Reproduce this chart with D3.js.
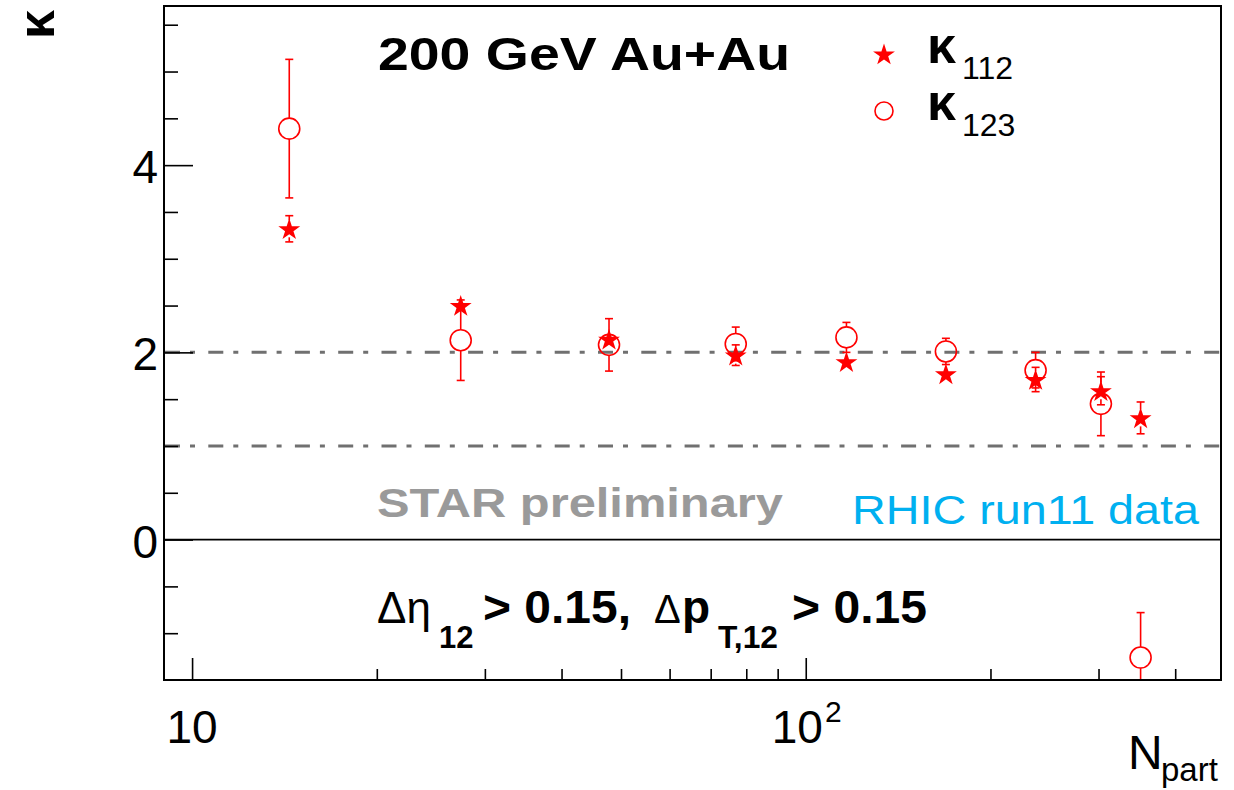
<!DOCTYPE html>
<html>
<head>
<meta charset="utf-8">
<script src="https://cdn.jsdelivr.net/npm/d3@7"></script>
<style>
  html, body { margin: 0; padding: 0; background: #fff; }
  svg { display: block; }
  text { font-family: "Liberation Sans", Arial, sans-serif; }
</style>
</head>
<body>
<svg id="chart" width="1234" height="790"></svg>
<script>
// Participant number of each centrality bin
const npart = [14.4, 27.4, 47.8, 76.9, 116.5, 169.2, 236.9, 302.7, 351.3];
// kappa_112 with statistical errors
const kappa112 = [3.32, 2.50, 2.14, 1.97, 1.90, 1.77, 1.71, 1.59, 1.30];
const kappa112Err = [0.14, 0.05, 0.06, 0.11, 0.07, 0.07, 0.13, 0.15, 0.17];
// kappa_123 with statistical errors
const kappa123 = [4.39, 2.13, 2.08, 2.09, 2.16, 2.01, 1.81, 1.45, -1.26];
const kappa123Err = [0.74, 0.43, 0.28, 0.18, 0.16, 0.14, 0.19, 0.34, 0.48];

// Axis ticks
const xMajorTicks = [10, 100];
const xMinorTicks = [20, 30, 40, 50, 60, 70, 80, 90, 200, 300, 400];
const yMajorTicks = [0, 2, 4];
const yMinorTicks = [-1, -0.5, 0.5, 1, 1.5, 2.5, 3, 3.5, 4.5, 5, 5.5];
// Reference levels drawn as dash-dot lines
const refLevels = [1, 2];

const svg = d3.select("#chart");
const frame = { left: 164, right: 1221, top: 6, bottom: 680 };
const greekFont = "DejaVu Serif, Liberation Serif, serif";

const x = d3.scaleLog().domain([9, 475]).range([frame.left, frame.right]);
const y = d3.scaleLinear().domain([-1.5, 5.7]).range([frame.bottom, frame.top]);

svg.append("defs").append("clipPath").attr("id", "plotClip")
  .append("rect")
  .attr("x", frame.left).attr("y", frame.top)
  .attr("width", frame.right - frame.left).attr("height", frame.bottom - frame.top);

// Dash-dot reference lines
svg.append("g").selectAll("line").data(refLevels).join("line")
  .attr("x1", frame.left + 1).attr("x2", frame.right)
  .attr("y1", d => y(d)).attr("y2", d => y(d))
  .attr("stroke", "#707070").attr("stroke-width", 3)
  .attr("stroke-dasharray", "15,10,5,13.3");

// Zero line
svg.append("line")
  .attr("x1", frame.left).attr("x2", frame.right)
  .attr("y1", y(0)).attr("y2", y(0))
  .attr("stroke", "#000").attr("stroke-width", 1.6);

// Axes: ticks point into the frame
function styleAxis(g) {
  g.select(".domain").remove();
  g.selectAll(".tick line").attr("stroke", "#000").attr("stroke-width", 1.6);
}
svg.append("g").attr("transform", `translate(0,${frame.bottom})`)
  .call(d3.axisBottom(x).tickValues(xMinorTicks).tickSize(-11).tickFormat(""))
  .call(styleAxis);
svg.append("g").attr("transform", `translate(0,${frame.bottom})`)
  .call(d3.axisBottom(x).tickValues(xMajorTicks).tickSize(-22).tickFormat(""))
  .call(styleAxis);
svg.append("g").attr("transform", `translate(${frame.left},0)`)
  .call(d3.axisLeft(y).tickValues(yMinorTicks).tickSize(-14).tickFormat(""))
  .call(styleAxis);
const yAxisMajor = svg.append("g").attr("transform", `translate(${frame.left},0)`)
  .call(d3.axisLeft(y).tickValues(yMajorTicks).tickSize(-29).tickPadding(6).tickFormat(d3.format("d")))
  .call(styleAxis);
yAxisMajor.selectAll(".tick text")
  .attr("font-family", "Liberation Sans, Arial, sans-serif")
  .attr("font-size", 46).attr("fill", "#000").attr("dy", "0.38em");

// x tick labels written as powers of ten
const xLab = svg.append("g").attr("font-size", 46).attr("fill", "#000");
xLab.append("text").attr("x", x(10)).attr("y", 743).attr("text-anchor", "middle").text("10");
const hundred = xLab.append("text").attr("x", x(100) - 34).attr("y", 743);
hundred.append("tspan").text("10");
hundred.append("tspan").attr("font-size", 30).attr("dy", -21).attr("dx", 2).text("2");

// Data layer
const plot = svg.append("g").attr("clip-path", "url(#plotClip)");
const red = "#ff0000";
const circleR = 10.5, starR = 11.5;

function errorBars(values, errors, r) {
  const g = plot.append("g").attr("stroke", red).attr("stroke-width", 1.6);
  values.forEach((v, i) => {
    const cx = x(npart[i]);
    const yc = y(v), yt = y(v + errors[i]), yb = y(v - errors[i]);
    if (yc - yt > r) {
      g.append("line").attr("x1", cx).attr("x2", cx).attr("y1", yt).attr("y2", yc - r);
      g.append("line").attr("x1", cx - 4).attr("x2", cx + 4).attr("y1", yt).attr("y2", yt);
    }
    if (yb - yc > r) {
      g.append("line").attr("x1", cx).attr("x2", cx).attr("y1", yc + r).attr("y2", yb);
      g.append("line").attr("x1", cx - 4).attr("x2", cx + 4).attr("y1", yb).attr("y2", yb);
    }
  });
}

errorBars(kappa123, kappa123Err, circleR);
plot.append("g").selectAll("circle").data(kappa123).join("circle")
  .attr("cx", (d, i) => x(npart[i])).attr("cy", d => y(d)).attr("r", circleR)
  .attr("fill", "none").attr("stroke", red).attr("stroke-width", 1.6);

errorBars(kappa112, kappa112Err, starR - 3);
const starPath = d3.symbol(d3.symbolStar).size(starR * starR / 0.8908130915292852)();
plot.append("g").selectAll("path").data(kappa112).join("path")
  .attr("d", starPath)
  .attr("transform", (d, i) => `translate(${x(npart[i])},${y(d) + 1})`)
  .attr("fill", red);

// Frame
svg.append("rect")
  .attr("x", frame.left).attr("y", frame.top)
  .attr("width", frame.right - frame.left).attr("height", frame.bottom - frame.top)
  .attr("fill", "none").attr("stroke", "#000").attr("stroke-width", 2);

// Axis titles
svg.append("text").attr("transform", "translate(54,39) rotate(-90)")
  .attr("font-family", greekFont).attr("font-weight", "bold")
  .attr("font-size", 52).text("κ");
svg.append("text").attr("x", 1128).attr("y", 769).attr("font-size", 48).text("N");
svg.append("text").attr("x", 1161).attr("y", 781).attr("font-size", 33).text("part");

// Title
svg.append("text").attr("x", 378).attr("y", 70)
  .attr("font-size", 47).attr("font-weight", "bold")
  .attr("textLength", 412).attr("lengthAdjust", "spacingAndGlyphs")
  .text("200 GeV Au+Au");

// Legend
const legend = [
  { label: "112", sym: "star", yc: 54 },
  { label: "123", sym: "circle", yc: 111 }
];
legend.forEach(l => {
  if (l.sym === "star") {
    svg.append("path").attr("d", starPath)
      .attr("transform", `translate(884,${l.yc + 1})`).attr("fill", red);
  } else {
    svg.append("circle").attr("cx", 884).attr("cy", l.yc).attr("r", 9)
      .attr("fill", "none").attr("stroke", red).attr("stroke-width", 1.6);
  }
  svg.append("text").attr("x", 927).attr("y", l.yc + 9)
    .attr("font-family", greekFont).attr("font-weight", "bold")
    .attr("font-size", 52).text("κ");
  svg.append("text").attr("x", 962).attr("y", l.yc + 25)
    .attr("font-size", 32).text(l.label);
});

// Watermark and data-set note
svg.append("text").attr("x", 377).attr("y", 517)
  .attr("font-size", 40).attr("font-weight", "bold").attr("fill", "#9a9a9a")
  .attr("textLength", 406).attr("lengthAdjust", "spacingAndGlyphs")
  .text("STAR preliminary");
svg.append("text").attr("x", 852).attr("y", 524)
  .attr("font-family", "Open Sans, Noto Sans, sans-serif")
  .attr("font-size", 41).attr("fill", "#00b0f0")
  .attr("textLength", 347).attr("lengthAdjust", "spacingAndGlyphs")
  .text("RHIC run11 data");

// Cut description
const cut = svg.append("g").attr("fill", "#000");
const serif = "Liberation Serif, Times New Roman, serif";
cut.append("text").attr("x", 377).attr("y", 623).attr("font-family", serif)
  .attr("font-size", 44).text("Δη");
cut.append("text").attr("x", 439).attr("y", 648).attr("font-size", 31)
  .attr("font-weight", "bold").text("12");
cut.append("text").attr("x", 483).attr("y", 623).attr("font-size", 46)
  .attr("font-weight", "bold").attr("textLength", 148).attr("lengthAdjust", "spacingAndGlyphs")
  .text("> 0.15,");
cut.append("text").attr("x", 654).attr("y", 623).attr("font-family", serif)
  .attr("font-size", 40).text("Δ");
cut.append("text").attr("x", 682).attr("y", 623).attr("font-size", 46)
  .attr("font-weight", "bold").text("p");
cut.append("text").attr("x", 718).attr("y", 648).attr("font-size", 31)
  .attr("font-weight", "bold").attr("textLength", 60).attr("lengthAdjust", "spacingAndGlyphs")
  .text("T,12");
cut.append("text").attr("x", 792).attr("y", 623).attr("font-size", 46)
  .attr("font-weight", "bold").attr("textLength", 135).attr("lengthAdjust", "spacingAndGlyphs")
  .text("> 0.15");
</script>
</body>
</html>
